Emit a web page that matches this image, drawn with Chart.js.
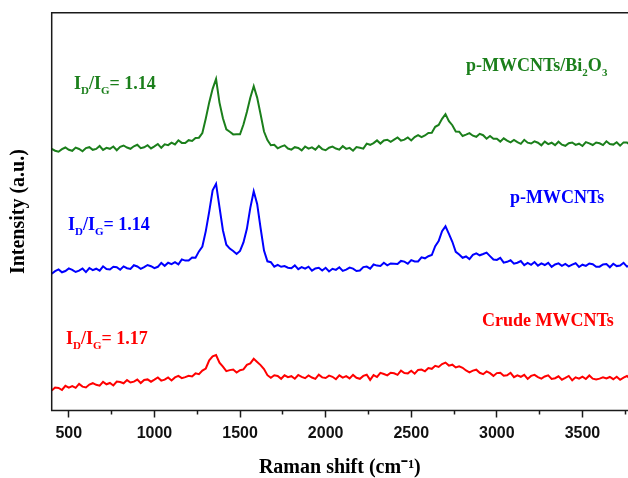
<!DOCTYPE html>
<html><head><meta charset="utf-8">
<script src="https://cdn.jsdelivr.net/npm/chart.js@4.4.1/dist/chart.umd.min.js"></script>
<style>
html,body{margin:0;padding:0;background:#fff;overflow:hidden}
#wrap{position:relative;width:628px;height:478px}
canvas{position:absolute;left:0;top:0}
.lab{position:absolute;font-family:"Liberation Serif","Times New Roman",serif;font-weight:bold;font-size:18px;line-height:18px;white-space:nowrap}
.lab sub{font-size:11px;position:relative;top:5px;vertical-align:baseline;line-height:0}
</style></head>
<body><div id="wrap"><canvas id="c" width="628" height="478"></canvas>
<div class="lab" style="left:74px;top:74px;color:#1b7f1b">I<sub>D</sub>/I<sub>G</sub>= 1.14</div>
<div class="lab" style="left:68px;top:215px;color:#0000ff">I<sub>D</sub>/I<sub>G</sub>= 1.14</div>
<div class="lab" style="left:66px;top:329px;color:#ff0000">I<sub>D</sub>/I<sub>G</sub>= 1.17</div>
<div class="lab" style="left:466px;top:56px;color:#1b7f1b">p-MWCNTs/Bi<sub>2</sub>O<sub>3</sub></div>
<div class="lab" style="left:510px;top:188px;color:#0000ff">p-MWCNTs</div>
<div class="lab" style="left:482px;top:311px;color:#ff0000">Crude MWCNTs</div>
</div>
<script>
const ramanShift = [
400,420,440,460,480,500,520,540,560,580,
600,620,640,660,680,700,720,740,760,780,
800,820,840,860,880,900,920,940,960,980,
1000,1020,1040,1060,1080,1100,1120,1140,1160,1180,
1200,1220,1240,1260,1280,1300,1320,1340,1360,1380,
1400,1420,1440,1460,1480,1500,1520,1540,1560,1580,
1600,1620,1640,1660,1680,1700,1720,1740,1760,1780,
1800,1820,1840,1860,1880,1900,1920,1940,1960,1980,
2000,2020,2040,2060,2080,2100,2120,2140,2160,2180,
2200,2220,2240,2260,2280,2300,2320,2340,2360,2380,
2400,2420,2440,2460,2480,2500,2520,2540,2560,2580,
2600,2620,2640,2660,2680,2700,2720,2740,2760,2780,
2800,2820,2840,2860,2880,2900,2920,2940,2960,2980,
3000,3020,3040,3060,3080,3100,3120,3140,3160,3180,
3200,3220,3240,3260,3280,3300,3320,3340,3360,3380,
3400,3420,3440,3460,3480,3500,3520,3540,3560,3580,
3600,3620,3640,3660,3680,3700,3720,3740,3760,3780,
3800];

const pMWCNTsBi2O3 = [
261.7,259.8,258.8,261.3,263.0,260.7,259.7,262.9,261.5,259.2,
262.4,263.3,260.7,261.6,264.5,260.6,262.7,261.7,264.0,260.3,
263.6,265.0,263.0,261.7,264.2,265.7,262.3,263.2,265.3,262.1,
264.1,266.5,262.7,266.2,265.4,267.9,266.1,270.2,267.6,267.4,
270.3,269.6,272.6,272.8,277.4,292.0,308.1,321.7,331.5,307.9,
292.2,281.1,278.7,276.1,276.3,276.2,286.0,298.4,312.8,324.3,
312.9,296.2,279.0,270.5,265.3,265.8,262.2,263.9,265.2,262.0,
260.9,263.3,262.5,260.1,264.0,261.8,263.1,260.9,264.5,261.4,
260.3,262.8,263.9,262.0,260.8,264.3,261.6,262.6,259.8,263.4,
262.7,261.9,266.9,265.7,267.4,270.1,266.9,270.1,270.8,268.6,
270.8,273.0,269.9,270.8,273.1,270.1,273.4,275.3,273.3,275.0,
277.5,277.7,283.7,285.6,291.7,296.4,289.4,285.3,279.0,278.8,
274.5,275.9,277.4,274.8,273.7,276.7,275.3,271.8,274.5,271.7,
271.8,268.9,272.2,269.9,268.2,270.6,268.3,266.7,270.7,267.8,
267.0,269.2,267.8,265.2,268.9,266.4,267.8,265.4,268.8,265.8,
264.7,267.2,268.0,265.6,266.8,264.5,268.4,267.1,265.5,268.0,
267.2,265.4,269.2,266.5,265.9,268.3,264.8,268.1,267.9,265.7,
268.0];

const pMWCNTs = [
136.8,139.4,141.1,138.2,139.5,142.1,140.7,138.5,139.8,142.0,
138.4,142.5,140.4,141.8,139.9,144.2,141.5,141.0,143.8,143.3,
140.7,144.1,142.3,141.6,145.3,144.0,141.7,143.3,145.5,144.3,
142.3,143.7,147.6,144.7,147.8,146.4,148.4,146.1,151.1,149.9,
149.9,153.0,152.7,159.1,164.0,179.4,198.8,220.1,226.6,203.3,
180.3,165.8,161.9,159.5,156.5,159.6,168.1,181.7,202.6,219.2,
206.6,182.5,159.9,149.2,148.3,143.8,145.6,143.7,144.5,142.8,
142.2,145.1,141.3,143.3,141.8,143.8,139.8,142.1,142.8,140.0,
142.7,139.0,141.7,140.6,143.2,139.6,140.9,142.9,141.9,139.5,
140.0,143.4,143.9,141.8,146.0,144.9,144.6,147.7,145.1,147.1,
146.8,146.5,149.6,148.9,146.7,150.4,149.0,149.0,153.1,152.2,
154.3,155.5,164.3,169.4,179.4,184.2,176.6,168.7,158.7,156.0,
152.7,154.0,151.4,155.6,157.2,155.2,156.5,157.9,154.4,151.0,
150.6,152.7,147.9,148.7,150.2,146.8,147.8,149.4,145.4,147.6,
145.7,148.5,144.9,147.1,145.5,147.7,143.7,146.0,147.1,144.6,
146.6,144.2,145.9,147.3,143.5,145.8,144.6,147.0,146.2,143.7,
143.8,146.1,146.4,143.2,146.8,144.4,145.0,147.7,143.9,145.7,
146.0];

const crudeMWCNTs = [
19.9,23.0,22.5,20.5,24.7,22.9,24.5,22.7,26.6,23.9,
23.1,25.9,27.3,25.7,24.8,28.6,26.2,27.5,25.0,28.9,
28.5,27.2,30.4,28.0,28.9,30.9,27.5,30.6,31.1,28.8,
30.8,33.0,29.9,30.8,33.1,30.1,33.1,34.6,32.3,33.4,
34.8,34.1,37.1,36.3,39.9,42.0,50.1,54.2,55.5,47.9,
43.8,39.3,40.4,41.0,38.0,40.3,41.1,45.7,47.1,51.7,
48.5,45.4,41.4,35.3,32.7,35.2,34.5,31.7,35.2,33.3,
34.3,31.8,35.5,33.6,32.3,35.1,33.0,31.6,35.8,33.1,
32.5,34.9,33.7,31.3,35.2,32.9,34.4,32.1,35.6,32.7,
31.7,34.6,35.8,30.6,35.4,33.5,37.6,36.5,35.1,37.8,
37.2,35.7,39.8,37.4,37.1,39.8,36.8,40.6,40.9,39.2,
42.5,41.7,44.7,43.6,46.4,47.9,44.9,45.8,43.0,44.1,
42.7,40.0,38.2,39.9,40.8,37.7,36.3,39.1,37.3,34.6,
37.4,37.8,34.8,35.2,37.7,33.3,35.1,33.7,35.7,31.6,
34.6,35.7,33.4,31.8,34.0,35.2,31.6,32.3,34.2,30.8,
32.6,34.5,30.2,33.2,31.9,33.9,31.5,35.0,31.8,31.0,
31.9,33.2,32.0,33.5,31.3,33.8,30.7,32.9,34.5,31.6,
32.2];

const majorTicks = [500,1000,1500,2000,2500,3000,3500];
const minorTicks = [750,1250,1750,2250,2750,3250,3750];
const seriesNames = ['p-MWCNTs/Bi2O3','p-MWCNTs','Crude MWCNTs'];
const seriesColors = ['#1b7f1b','#0000ff','#ff0000'];
const seriesValues = [pMWCNTsBi2O3, pMWCNTs, crudeMWCNTs];

const frame = {
  id: 'frame',
  afterDraw(chart) {
    const {ctx, chartArea: a} = chart;
    ctx.save();
    ctx.strokeStyle = '#1a1a1a';
    ctx.lineWidth = 1.5;
    ctx.beginPath();
    ctx.moveTo(a.right + 2, a.top);
    ctx.lineTo(a.left, a.top);
    ctx.lineTo(a.left, a.bottom);
    ctx.lineTo(a.right + 2, a.bottom);
    ctx.stroke();
    ctx.restore();
  }
};

new Chart(document.getElementById('c'), {
  type: 'line',
  data: {
    datasets: seriesValues.map((vals, k) => ({
      label: seriesNames[k],
      data: ramanShift.map((x, i) => ({x: x, y: vals[i]})),
      borderColor: seriesColors[k],
      borderWidth: 2,
      pointRadius: 0,
      tension: 0,
      fill: false
    }))
  },
  options: {
    responsive: false,
    animation: false,
    devicePixelRatio: 1,
    layout: {padding: {left: 0, top: 12.7, right: 0, bottom: 0}},
    plugins: {legend: {display: false}, tooltip: {enabled: false}},
    scales: {
      x: {
        type: 'linear', position: 'bottom', weight: 1,
        min: 400, max: 3766,
        afterBuildTicks: (ax) => { ax.ticks = majorTicks.map(v => ({value: v})); },
        afterFit: (ax) => { ax.height = 67.5; },
        ticks: {
          autoSkip: false, maxRotation: 0, padding: 6, color: '#111',
          font: {family: '"Liberation Sans", Arial, sans-serif', size: 16, weight: 'bold'},
          callback: (v) => String(v)
        },
        grid: {drawOnChartArea: false, drawTicks: true, tickLength: 7, tickColor: '#1a1a1a', tickWidth: 1.5},
        border: {display: false},
        title: {
          display: true, text: 'Raman shift (cm\u207B\u00B9)', color: '#000',
          font: {family: '"Liberation Serif", "Times New Roman", serif', size: 20, weight: 'bold', lineHeight: 1},
          padding: {top: 0, bottom: 0}
        }
      },
      xMinor: {
        type: 'linear', position: 'bottom', weight: 0,
        min: 400, max: 3766,
        afterBuildTicks: (ax) => { ax.ticks = minorTicks.map(v => ({value: v})); },
        afterFit: (ax) => { ax.height = 0; },
        ticks: {display: false},
        grid: {drawOnChartArea: false, drawTicks: true, tickLength: 4, tickColor: '#1a1a1a', tickWidth: 1.5},
        border: {display: false}
      },
      y: {
        type: 'linear', position: 'left',
        min: 0, max: 397.8,
        afterFit: (ax) => { ax.width = 51.7; },
        ticks: {display: false},
        grid: {display: false},
        border: {display: false},
        title: {
          display: true, text: 'Intensity (a.u.)', color: '#000',
          font: {family: '"Liberation Serif", "Times New Roman", serif', size: 20, weight: 'bold', lineHeight: 1},
          padding: {top: 8.5, bottom: 0}
        }
      }
    }
  },
  plugins: [frame]
});
</script>
</body></html>
